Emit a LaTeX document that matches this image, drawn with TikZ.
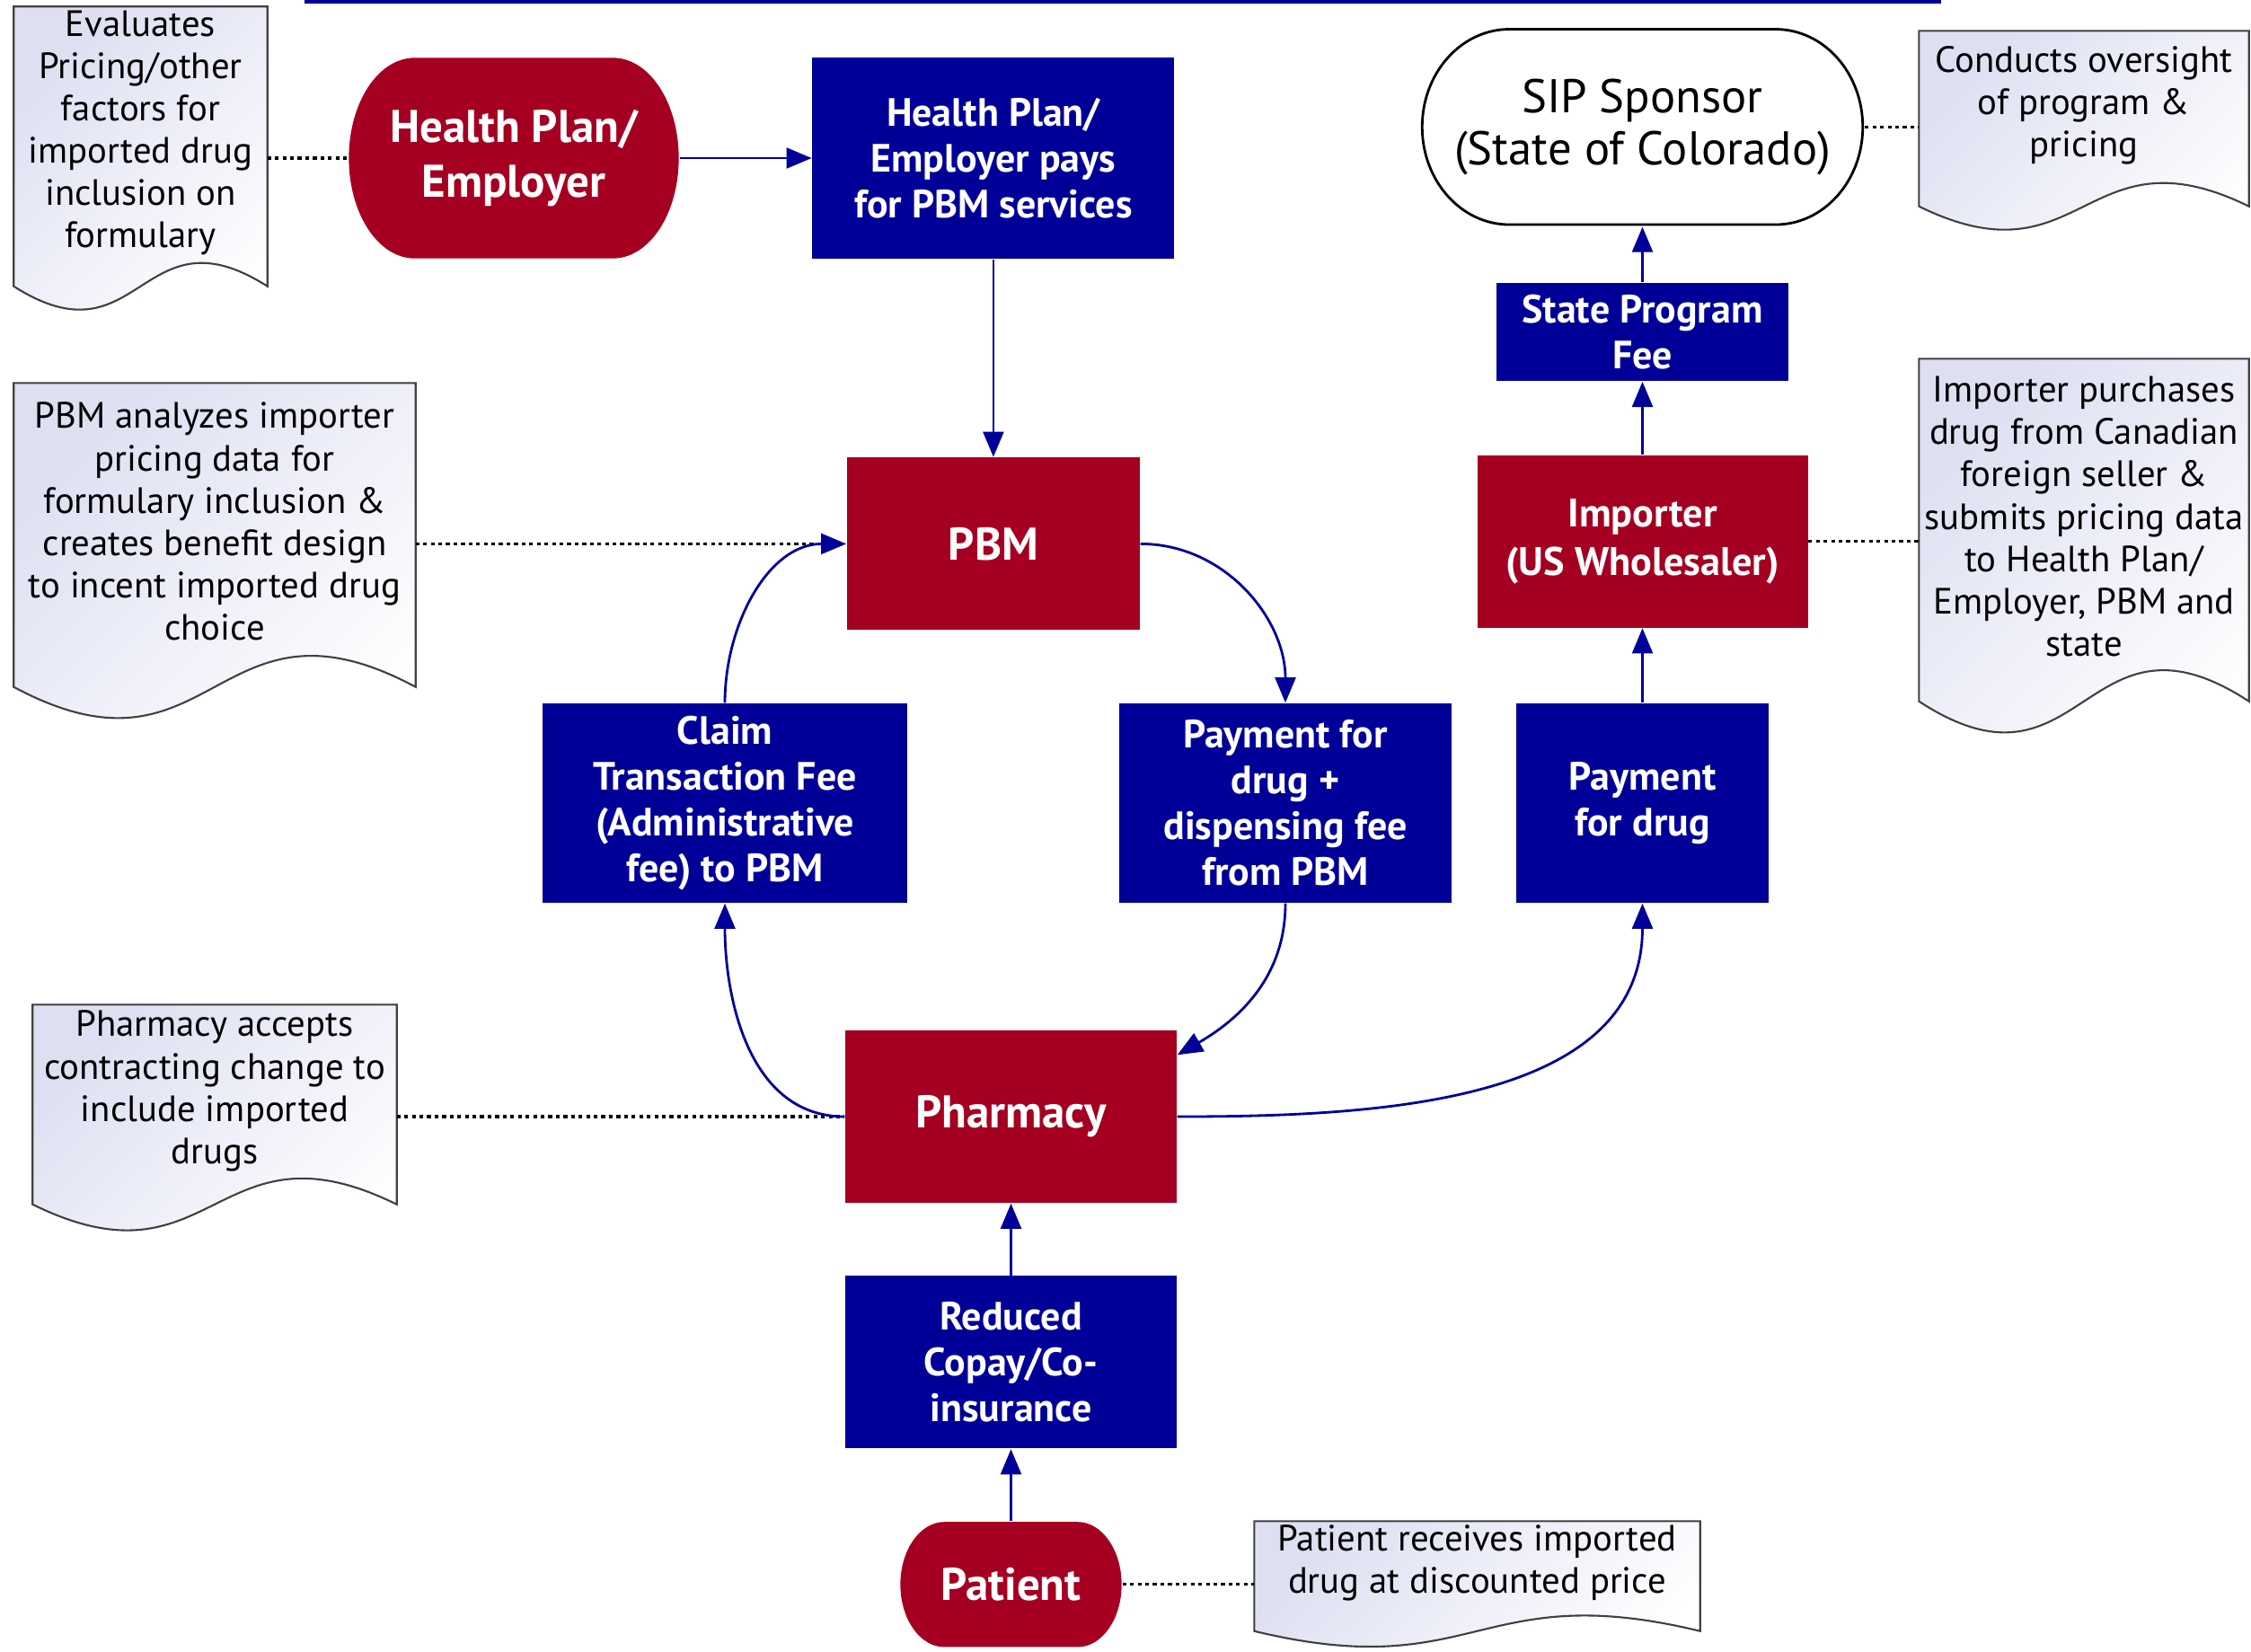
\documentclass[tikz,border=0pt]{standalone}
\usepackage{fontspec}
\setmainfont{PT Sans}
\usetikzlibrary{arrows.meta, positioning, calc, backgrounds}
\definecolor{hpred}{RGB}{165,0,33}
\definecolor{navy}{RGB}{0,0,153}
\definecolor{memotint}{RGB}{222,224,242}
\def\memodrop{0.3}
\tikzset{
  bluebox/.style={rectangle, fill=navy, text=white, inner sep=0pt, align=center, font=\bfseries\fontsize{12.5}{14.5}\selectfont},
  redbox/.style={rectangle, fill=hpred, text=white, inner sep=0pt, align=center, font=\bfseries\fontsize{14.5}{17.5}\selectfont},
  terminal/.style n args={2}{rectangle, fill=none, inner sep=0pt, align=center,
    path picture={\path[fill=#1, draw=#2, line width=0.8pt]
      let \p1=(path picture bounding box.south west), \p2=(path picture bounding box.north east),
          \n1={0.2*(\x2-\x1)}, \n2={0.5*(\y2-\y1)-0.5pt} in
      (\x1+\n1,\y2-0.5pt) -- (\x2-\n1,\y2-0.5pt)
      arc[start angle=90, end angle=-90, x radius=\n1-0.5pt, y radius=\n2]
      -- (\x1+\n1,\y1+0.5pt)
      arc[start angle=270, end angle=90, x radius=\n1-0.5pt, y radius=\n2] -- cycle;}},
  memo/.style={rectangle, inner sep=0pt, align=center, font=\fontsize{11.6}{13.4}\selectfont},
  memoline/.style={draw=black!75, line width=0.6pt, top color=memotint, bottom color=white, shading angle=45},
  arrow/.style={draw=navy, line width=0.8pt, -{Triangle[length=8pt,width=6.5pt]}},
  link/.style={draw=black, line width=0.9pt, dash pattern=on 1.2pt off 1.2pt}
}
% document outline below a note node: #1 node, #2 wave bulge
\newcommand{\docshape}[2]{%
  \path[memoline] (#1.north west) -- (#1.north east) -- ($(#1.south east)+(0,-\memodrop)$)
    .. controls ($(#1.south)+(0,#2-\memodrop)$) and ($(#1.south)+(0,-#2-\memodrop)$) ..
    ($(#1.south west)+(0,-\memodrop)$) -- cycle;}

\begin{document}
\begin{tikzpicture}
\useasboundingbox (0,0) rectangle (25.06,-18.38);

% header rule
\draw[navy, line width=1.2pt] (3.39,-0.02) -- (21.61,-0.02);

% Payer side
\node (hpemp) [redbox, terminal={hpred}{hpred}, minimum width=3.68cm, minimum height=2.24cm] at (5.72,-1.76) {Health Plan/\\Employer};
\node (hppays) [bluebox, right=1.47cm of hpemp, minimum width=4.03cm, minimum height=2.24cm] {Health Plan/\\Employer pays\\for PBM services};
\node (pbm) [redbox, below=2.20cm of hppays, minimum width=3.26cm, minimum height=1.92cm] {PBM};

% Middle row
\node (claim) [bluebox, minimum width=4.06cm, minimum height=2.22cm] at (8.07,-8.94) {Claim\\Transaction Fee\\(Administrative\\fee) to PBM};
\node (paypbm) [bluebox, minimum width=3.70cm, minimum height=2.22cm] at (14.31,-8.94) {Payment for\\drug +\\dispensing fee\\from PBM};
\node (paydrug) [bluebox, minimum width=2.81cm, minimum height=2.22cm] at (18.285,-8.94) {Payment\\for drug};

% State side
\node (importer) [redbox, above=0.83cm of paydrug, minimum width=3.68cm, minimum height=1.92cm, font=\bfseries\fontsize{12.6}{15.5}\selectfont] {Importer\\(US Wholesaler)};
\node (statefee) [bluebox, above=0.81cm of importer, minimum width=3.25cm, minimum height=1.09cm] {State Program\\Fee};
\node (sip) [terminal={white}{black}, above=0.62cm of statefee, minimum width=4.94cm, minimum height=2.21cm, font=\fontsize{15}{16.5}\selectfont] {SIP Sponsor\\(State of Colorado)};

% Patient side
\node (pharmacy) [redbox, minimum width=3.69cm, minimum height=1.92cm] at (11.255,-12.43) {Pharmacy};
\node (reduced) [bluebox, below=0.80cm of pharmacy, minimum width=3.69cm, minimum height=1.92cm] {Reduced\\Copay/Co-\\insurance};
\node (patient) [redbox, terminal={hpred}{hpred}, below=0.80cm of reduced, minimum width=2.47cm, minimum height=1.40cm] {Patient};

% Notes
\node (evalnote) [memo, minimum width=2.81cm, minimum height=2.80cm] at (1.565,-1.48) {Evaluates\\Pricing/other\\factors for\\imported drug\\inclusion on\\formulary};
\node (pbmnote) [memo, minimum width=4.46cm, minimum height=3.07cm] at (2.39,-5.805) {PBM analyzes importer\\pricing data for\\formulary inclusion \&\\creates benefit design\\to incent imported drug\\choice};
\node (pharmnote) [memo, minimum width=4.04cm, minimum height=1.91cm] at (2.39,-12.145) {Pharmacy accepts\\contracting change to\\include imported\\drugs};
\node (patnote) [memo, minimum width=4.95cm, minimum height=0.91cm] at (16.445,-17.395) {Patient receives imported\\drug at discounted price};
\node (sipnote) [memo, minimum width=3.66cm, minimum height=1.64cm] at (23.2,-1.17) {Conducts oversight\\of program \&\\pricing};
\node (impnote) [memo, minimum width=3.66cm, minimum height=3.50cm] at (23.2,-5.75) {Importer purchases\\drug from Canadian\\foreign seller \&\\submits pricing data\\to Health Plan/\\Employer, PBM and\\state};

\begin{scope}[on background layer]
\docshape{evalnote}{0.9}
\docshape{pbmnote}{1.2}
\docshape{pharmnote}{1.0}
\docshape{patnote}{0.6}
\docshape{sipnote}{0.9}
\docshape{impnote}{1.2}
\end{scope}

% Dotted links to notes
\draw [link] (hpemp.west -| evalnote.east) -- (hpemp.west);
\draw [link] (pbm.west -| pbmnote.east) -- (pbm.west);
\draw [link] (pharmacy.west -| pharmnote.east) -- (pharmacy.west);
\draw [link] (patient.east) -- (patient.east -| patnote.west);
\draw [link] (sip.east) -- (sip.east -| sipnote.west);
\draw [link] (importer.east) -- (importer.east -| impnote.west);

% Money flow
\draw [arrow] (hpemp) -- (hppays);
\draw [arrow] (hppays) -- (pbm);
\draw [arrow] (claim.north) to[out=90, in=180] (pbm.west);
\draw [arrow] (pbm.east) to[out=0, in=90] (paypbm.north);
\draw [arrow] (paypbm.south) to[out=-90, in=30] ([yshift=-0.28cm]pharmacy.north east);
\draw [arrow] (pharmacy.west) to[out=180, in=-90] (claim.south);
\draw [arrow] (pharmacy.east) to[out=0, in=-90] (paydrug.south);
\draw [arrow] (reduced) -- (pharmacy);
\draw [arrow] (patient) -- (reduced);
\draw [arrow] (paydrug) -- (importer);
\draw [arrow] (importer) -- (statefee);
\draw [arrow] (statefee) -- (sip);

\end{tikzpicture}
\end{document}
